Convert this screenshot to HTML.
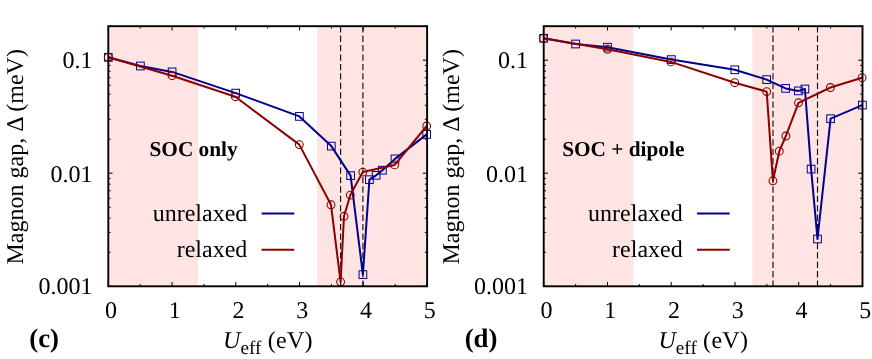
<!DOCTYPE html>
<html><head><meta charset="utf-8"><title>Magnon gap</title>
<style>html,body{margin:0;padding:0;background:#fff;}svg{display:block;text-rendering:geometricPrecision;will-change:transform;}</style>
</head><body>
<svg width="872" height="359" viewBox="0 0 872 359" font-family="'Liberation Serif', serif" font-size="24" fill="#000">
<rect width="872" height="359" fill="#fff"/>
<rect x="108.3" y="26.2" width="89.8" height="260.1" fill="#ffe4e4"/>
<rect x="317.1" y="26.2" width="110.0" height="260.1" fill="#ffe4e4"/>
<line x1="340.6" y1="26.2" x2="340.6" y2="286.3" stroke="#111" stroke-width="1.15" stroke-dasharray="6.3 3.12"/>
<line x1="362.9" y1="26.2" x2="362.9" y2="286.3" stroke="#111" stroke-width="1.15" stroke-dasharray="6.3 3.12"/>
<path d="M108.3 286.3v-4.3M108.3 26.2v4.3M140.2 286.3v-2.3M140.2 26.2v2.3M172.1 286.3v-4.3M172.1 26.2v4.3M203.9 286.3v-2.3M203.9 26.2v2.3M235.8 286.3v-4.3M235.8 26.2v4.3M267.7 286.3v-2.3M267.7 26.2v2.3M299.6 286.3v-4.3M299.6 26.2v4.3M331.5 286.3v-2.3M331.5 26.2v2.3M363.3 286.3v-4.3M363.3 26.2v4.3M395.2 286.3v-2.3M395.2 26.2v2.3M427.1 286.3v-4.3M427.1 26.2v4.3M108.3 286.3h4.3M427.1 286.3h-4.3M108.3 252.3h2.3M427.1 252.3h-2.3M108.3 232.4h2.3M427.1 232.4h-2.3M108.3 218.2h2.3M427.1 218.2h-2.3M108.3 207.3h2.3M427.1 207.3h-2.3M108.3 198.3h2.3M427.1 198.3h-2.3M108.3 190.8h2.3M427.1 190.8h-2.3M108.3 184.2h2.3M427.1 184.2h-2.3M108.3 178.4h2.3M427.1 178.4h-2.3M108.3 173.2h4.3M427.1 173.2h-4.3M108.3 139.2h2.3M427.1 139.2h-2.3M108.3 119.3h2.3M427.1 119.3h-2.3M108.3 105.2h2.3M427.1 105.2h-2.3M108.3 94.2h2.3M427.1 94.2h-2.3M108.3 85.3h2.3M427.1 85.3h-2.3M108.3 77.7h2.3M427.1 77.7h-2.3M108.3 71.2h2.3M427.1 71.2h-2.3M108.3 65.4h2.3M427.1 65.4h-2.3M108.3 60.2h4.3M427.1 60.2h-4.3M108.3 26.2h2.3M427.1 26.2h-2.3" stroke="#000" stroke-width="1" fill="none"/>
<path d="M108.3 57.3 L140.4 66.0 L172.1 71.9 L235.7 93.1 L299.4 116.4 L331.3 146.1 L350.6 175.6 L362.9 274.6 L369.4 179.7 L376.1 175.3 L382.4 170.2 L395.0 158.9 L426.7 134.4" stroke="#00008b" stroke-width="2" fill="none" stroke-linejoin="round"/>
<rect x="104.45" y="53.45" width="7.7" height="7.7" stroke="#00008b" stroke-width="1" fill="none"/>
<rect x="136.55" y="62.15" width="7.7" height="7.7" stroke="#00008b" stroke-width="1" fill="none"/>
<rect x="168.25" y="68.05" width="7.7" height="7.7" stroke="#00008b" stroke-width="1" fill="none"/>
<rect x="231.85" y="89.25" width="7.7" height="7.7" stroke="#00008b" stroke-width="1" fill="none"/>
<rect x="295.55" y="112.55" width="7.7" height="7.7" stroke="#00008b" stroke-width="1" fill="none"/>
<rect x="327.45" y="142.25" width="7.7" height="7.7" stroke="#00008b" stroke-width="1" fill="none"/>
<rect x="346.75" y="171.75" width="7.7" height="7.7" stroke="#00008b" stroke-width="1" fill="none"/>
<rect x="359.05" y="270.75" width="7.7" height="7.7" stroke="#00008b" stroke-width="1" fill="none"/>
<rect x="365.55" y="175.85" width="7.7" height="7.7" stroke="#00008b" stroke-width="1" fill="none"/>
<rect x="372.25" y="171.45" width="7.7" height="7.7" stroke="#00008b" stroke-width="1" fill="none"/>
<rect x="378.55" y="166.35" width="7.7" height="7.7" stroke="#00008b" stroke-width="1" fill="none"/>
<rect x="391.15" y="155.05" width="7.7" height="7.7" stroke="#00008b" stroke-width="1" fill="none"/>
<rect x="422.85" y="130.55" width="7.7" height="7.7" stroke="#00008b" stroke-width="1" fill="none"/>
<path d="M108.3 57.3 L172.1 75.7 L235.4 96.7 L299.3 144.6 L331.0 204.8 L340.6 281.8 L344.0 216.3 L350.3 195.1 L362.8 172.1 L394.7 164.9 L426.7 126.0" stroke="#8b0000" stroke-width="2" fill="none" stroke-linejoin="round"/>
<circle cx="108.3" cy="57.3" r="3.9" stroke="#8b0000" stroke-width="1.1" fill="none"/>
<circle cx="172.1" cy="75.7" r="3.9" stroke="#8b0000" stroke-width="1.1" fill="none"/>
<circle cx="235.4" cy="96.7" r="3.9" stroke="#8b0000" stroke-width="1.1" fill="none"/>
<circle cx="299.3" cy="144.6" r="3.9" stroke="#8b0000" stroke-width="1.1" fill="none"/>
<circle cx="331.0" cy="204.8" r="3.9" stroke="#8b0000" stroke-width="1.1" fill="none"/>
<circle cx="340.6" cy="281.8" r="3.9" stroke="#8b0000" stroke-width="1.1" fill="none"/>
<circle cx="344.0" cy="216.3" r="3.9" stroke="#8b0000" stroke-width="1.1" fill="none"/>
<circle cx="350.3" cy="195.1" r="3.9" stroke="#8b0000" stroke-width="1.1" fill="none"/>
<circle cx="362.8" cy="172.1" r="3.9" stroke="#8b0000" stroke-width="1.1" fill="none"/>
<circle cx="394.7" cy="164.9" r="3.9" stroke="#8b0000" stroke-width="1.1" fill="none"/>
<circle cx="426.7" cy="126.0" r="3.9" stroke="#8b0000" stroke-width="1.1" fill="none"/>
<rect x="108.3" y="26.2" width="318.8" height="260.1" stroke="#000" stroke-width="1.9" fill="none"/>
<line x1="261.6" y1="213.5" x2="294.3" y2="213.5" stroke="#00008b" stroke-width="2"/>
<line x1="261.6" y1="249.8" x2="294.3" y2="249.8" stroke="#8b0000" stroke-width="2"/>
<text x="247.3" y="221.2" text-anchor="end">unrelaxed</text>
<text x="247.3" y="257.4" text-anchor="end">relaxed</text>
<text x="92.5" y="68.4" text-anchor="end">0.1</text>
<text x="92.5" y="181.6" text-anchor="end">0.01</text>
<text x="92.5" y="294.4" text-anchor="end">0.001</text>
<text x="111.0" y="318.3" text-anchor="middle">0</text>
<text x="174.8" y="318.3" text-anchor="middle">1</text>
<text x="238.5" y="318.3" text-anchor="middle">2</text>
<text x="302.3" y="318.3" text-anchor="middle">3</text>
<text x="366.0" y="318.3" text-anchor="middle">4</text>
<text x="429.8" y="318.3" text-anchor="middle">5</text>
<text x="223.1" y="347.6"><tspan font-style="italic">U</tspan><tspan font-size="19.2" dy="6.8">eff</tspan><tspan dy="-6.8" letter-spacing="0.3"> (eV)</tspan></text>
<text transform="translate(23.4 264.5) rotate(-90)">Magnon gap, Δ (meV)</text>
<text x="29.3" y="346.9" font-weight="bold" font-size="26.8">(c)</text>
<text x="149.5" y="155.8" font-weight="bold" font-size="21.3">SOC only</text>
<rect x="543.7" y="26.2" width="89.8" height="260.1" fill="#ffe4e4"/>
<rect x="752.5" y="26.2" width="110.0" height="260.1" fill="#ffe4e4"/>
<line x1="773.0" y1="26.2" x2="773.0" y2="286.3" stroke="#111" stroke-width="1.15" stroke-dasharray="6.3 3.12"/>
<line x1="817.5" y1="26.2" x2="817.5" y2="286.3" stroke="#111" stroke-width="1.15" stroke-dasharray="6.3 3.12"/>
<path d="M543.7 286.3v-4.3M543.7 26.2v4.3M575.6 286.3v-2.3M575.6 26.2v2.3M607.5 286.3v-4.3M607.5 26.2v4.3M639.3 286.3v-2.3M639.3 26.2v2.3M671.2 286.3v-4.3M671.2 26.2v4.3M703.1 286.3v-2.3M703.1 26.2v2.3M735.0 286.3v-4.3M735.0 26.2v4.3M766.9 286.3v-2.3M766.9 26.2v2.3M798.7 286.3v-4.3M798.7 26.2v4.3M830.6 286.3v-2.3M830.6 26.2v2.3M862.5 286.3v-4.3M862.5 26.2v4.3M543.7 286.3h4.3M862.5 286.3h-4.3M543.7 252.3h2.3M862.5 252.3h-2.3M543.7 232.4h2.3M862.5 232.4h-2.3M543.7 218.2h2.3M862.5 218.2h-2.3M543.7 207.3h2.3M862.5 207.3h-2.3M543.7 198.3h2.3M862.5 198.3h-2.3M543.7 190.8h2.3M862.5 190.8h-2.3M543.7 184.2h2.3M862.5 184.2h-2.3M543.7 178.4h2.3M862.5 178.4h-2.3M543.7 173.2h4.3M862.5 173.2h-4.3M543.7 139.2h2.3M862.5 139.2h-2.3M543.7 119.3h2.3M862.5 119.3h-2.3M543.7 105.2h2.3M862.5 105.2h-2.3M543.7 94.2h2.3M862.5 94.2h-2.3M543.7 85.3h2.3M862.5 85.3h-2.3M543.7 77.7h2.3M862.5 77.7h-2.3M543.7 71.2h2.3M862.5 71.2h-2.3M543.7 65.4h2.3M862.5 65.4h-2.3M543.7 60.2h4.3M862.5 60.2h-4.3M543.7 26.2h2.3M862.5 26.2h-2.3" stroke="#000" stroke-width="1" fill="none"/>
<path d="M543.6 38.3 L575.6 44.0 L607.5 47.2 L671.3 59.6 L734.8 69.8 L766.7 79.6 L785.6 88.4 L798.4 90.9 L804.9 89.0 L811.1 169.1 L817.5 239.0 L830.6 118.7 L862.4 105.1" stroke="#00008b" stroke-width="2" fill="none" stroke-linejoin="round"/>
<rect x="539.75" y="34.45" width="7.7" height="7.7" stroke="#00008b" stroke-width="1" fill="none"/>
<rect x="571.75" y="40.15" width="7.7" height="7.7" stroke="#00008b" stroke-width="1" fill="none"/>
<rect x="603.65" y="43.35" width="7.7" height="7.7" stroke="#00008b" stroke-width="1" fill="none"/>
<rect x="667.45" y="55.75" width="7.7" height="7.7" stroke="#00008b" stroke-width="1" fill="none"/>
<rect x="730.95" y="65.95" width="7.7" height="7.7" stroke="#00008b" stroke-width="1" fill="none"/>
<rect x="762.85" y="75.75" width="7.7" height="7.7" stroke="#00008b" stroke-width="1" fill="none"/>
<rect x="781.75" y="84.55" width="7.7" height="7.7" stroke="#00008b" stroke-width="1" fill="none"/>
<rect x="794.55" y="87.05" width="7.7" height="7.7" stroke="#00008b" stroke-width="1" fill="none"/>
<rect x="801.05" y="85.15" width="7.7" height="7.7" stroke="#00008b" stroke-width="1" fill="none"/>
<rect x="807.25" y="165.25" width="7.7" height="7.7" stroke="#00008b" stroke-width="1" fill="none"/>
<rect x="813.65" y="235.15" width="7.7" height="7.7" stroke="#00008b" stroke-width="1" fill="none"/>
<rect x="826.75" y="114.85" width="7.7" height="7.7" stroke="#00008b" stroke-width="1" fill="none"/>
<rect x="858.55" y="101.25" width="7.7" height="7.7" stroke="#00008b" stroke-width="1" fill="none"/>
<path d="M543.6 38.3 L607.5 49.3 L670.9 61.9 L734.8 82.7 L766.7 91.6 L772.9 180.8 L779.3 151.2 L785.9 136.0 L798.5 102.8 L830.4 87.5 L862.1 77.7" stroke="#8b0000" stroke-width="2" fill="none" stroke-linejoin="round"/>
<circle cx="543.6" cy="38.3" r="3.9" stroke="#8b0000" stroke-width="1.1" fill="none"/>
<circle cx="607.5" cy="49.3" r="3.9" stroke="#8b0000" stroke-width="1.1" fill="none"/>
<circle cx="670.9" cy="61.9" r="3.9" stroke="#8b0000" stroke-width="1.1" fill="none"/>
<circle cx="734.8" cy="82.7" r="3.9" stroke="#8b0000" stroke-width="1.1" fill="none"/>
<circle cx="766.7" cy="91.6" r="3.9" stroke="#8b0000" stroke-width="1.1" fill="none"/>
<circle cx="772.9" cy="180.8" r="3.9" stroke="#8b0000" stroke-width="1.1" fill="none"/>
<circle cx="779.3" cy="151.2" r="3.9" stroke="#8b0000" stroke-width="1.1" fill="none"/>
<circle cx="785.9" cy="136.0" r="3.9" stroke="#8b0000" stroke-width="1.1" fill="none"/>
<circle cx="798.5" cy="102.8" r="3.9" stroke="#8b0000" stroke-width="1.1" fill="none"/>
<circle cx="830.4" cy="87.5" r="3.9" stroke="#8b0000" stroke-width="1.1" fill="none"/>
<circle cx="862.1" cy="77.7" r="3.9" stroke="#8b0000" stroke-width="1.1" fill="none"/>
<rect x="543.7" y="26.2" width="318.8" height="260.1" stroke="#000" stroke-width="1.9" fill="none"/>
<line x1="697.0" y1="213.5" x2="729.7" y2="213.5" stroke="#00008b" stroke-width="2"/>
<line x1="697.0" y1="249.8" x2="729.7" y2="249.8" stroke="#8b0000" stroke-width="2"/>
<text x="682.7" y="221.2" text-anchor="end">unrelaxed</text>
<text x="682.7" y="257.4" text-anchor="end">relaxed</text>
<text x="527.9" y="68.4" text-anchor="end">0.1</text>
<text x="527.9" y="181.6" text-anchor="end">0.01</text>
<text x="527.9" y="294.4" text-anchor="end">0.001</text>
<text x="546.4" y="318.3" text-anchor="middle">0</text>
<text x="610.2" y="318.3" text-anchor="middle">1</text>
<text x="673.9" y="318.3" text-anchor="middle">2</text>
<text x="737.7" y="318.3" text-anchor="middle">3</text>
<text x="801.4" y="318.3" text-anchor="middle">4</text>
<text x="865.2" y="318.3" text-anchor="middle">5</text>
<text x="658.5" y="347.6"><tspan font-style="italic">U</tspan><tspan font-size="19.2" dy="6.8">eff</tspan><tspan dy="-6.8" letter-spacing="0.3"> (eV)</tspan></text>
<text transform="translate(458.8 264.5) rotate(-90)">Magnon gap, Δ (meV)</text>
<text x="464.7" y="346.9" font-weight="bold" font-size="26.8">(d)</text>
<text x="562.2" y="155.8" font-weight="bold" font-size="21.3">SOC + dipole</text>
</svg>
</body></html>
